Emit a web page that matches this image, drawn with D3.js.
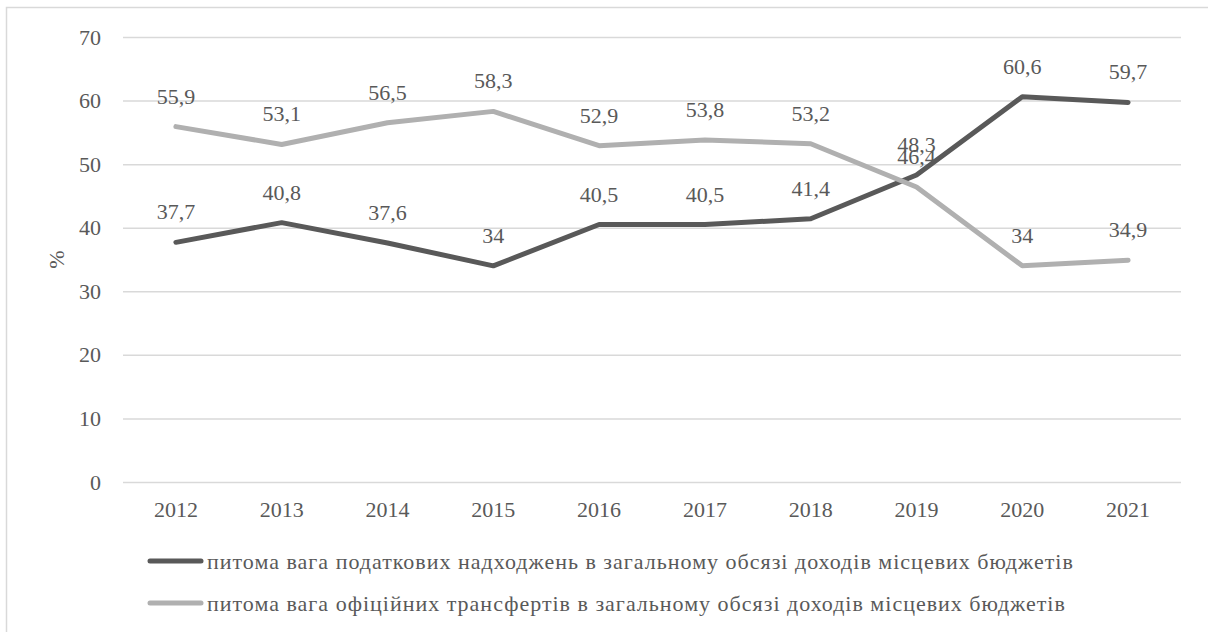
<!DOCTYPE html>
<html>
<head>
<meta charset="utf-8">
<script src="https://cdn.jsdelivr.net/npm/d3@7"></script>
<style>
  html, body { margin: 0; padding: 0; background: #fff; }
  svg { display: block; }
  text { font-family: "Liberation Serif", Tinos, "Times New Roman", Times, "DejaVu Serif", "Noto Serif", serif; fill: #595959; }
</style>
</head>
<body>
<svg id="chart" width="1208" height="632"></svg>
<script>
// Share of local budget revenues, %
const years = ["2012","2013","2014","2015","2016","2017","2018","2019","2020","2021"];
const taxShare = [37.7, 40.8, 37.6, 34, 40.5, 40.5, 41.4, 48.3, 60.6, 59.7];
const transferShare = [55.9, 53.1, 56.5, 58.3, 52.9, 53.8, 53.2, 46.4, 34, 34.9];
const yTicks = [0, 10, 20, 30, 40, 50, 60, 70];
const seriesNames = [
  "питома вага податкових надходжень в загальному обсязі доходів місцевих бюджетів",
  "питома вага офіційних трансфертів в загальному обсязі доходів місцевих бюджетів"
];
const seriesColors = ["#595959", "#b0b0b0"];

const W = 1208, H = 632;
const margin = { left: 123, right: 27, top: 37, bottom: 150 };
const svg = d3.select("#chart");

// outer frame
svg.append("rect")
  .attr("x", 6.5).attr("y", 7.5)
  .attr("width", W + 10).attr("height", H + 10)
  .attr("fill", "none").attr("stroke", "#d9d9d9").attr("stroke-width", 1.5);

const x = d3.scaleBand().domain(years)
  .range([margin.left, W - margin.right]).paddingInner(0).paddingOuter(0);
const y = d3.scaleLinear().domain([0, 70]).range([H - margin.bottom, margin.top]);
const cx = d => x(d) + x.bandwidth() / 2;

// horizontal gridlines with value labels
const yAxis = d3.axisLeft(y).tickValues(yTicks).tickSize(-(W - margin.left - margin.right))
  .tickFormat(d3.format("d")).tickPadding(22);
const gy = svg.append("g").attr("transform", `translate(${margin.left},0)`).call(yAxis);
gy.attr("font-family", null);
gy.select(".domain").remove();
gy.selectAll(".tick line").attr("stroke", "#d9d9d9").attr("stroke-width", 1.5);
gy.selectAll(".tick text").attr("font-size", 22).attr("fill", "#595959");

// category labels
const xAxis = d3.axisBottom(x).tickSize(0).tickPadding(19);
const gx = svg.append("g").attr("transform", `translate(0,${y(0)})`).call(xAxis);
gx.attr("font-family", null);
gx.select(".domain").remove();
gx.selectAll(".tick text").attr("font-size", 22).attr("fill", "#595959");

// axis title
svg.append("text")
  .attr("transform", `translate(64,${(y(0) + y(70)) / 2}) rotate(-90)`)
  .attr("text-anchor", "middle").attr("font-size", 22).text("%");

const line = d3.line().x((d, i) => cx(years[i])).y(d => y(d));
const series = [taxShare, transferShare];

series.forEach((vals, s) => {
  svg.append("path").datum(vals)
    .attr("d", line).attr("fill", "none")
    .attr("stroke", seriesColors[s]).attr("stroke-width", 5)
    .attr("stroke-linejoin", "round").attr("stroke-linecap", "round");
});

const fmt = v => String(v).replace(".", ",");
series.forEach(vals => {
  svg.append("g").selectAll("text").data(vals).join("text")
    .attr("x", (d, i) => cx(years[i]))
    .attr("y", d => y(d) - 23)
    .attr("text-anchor", "middle").attr("font-size", 22)
    .text(fmt);
});

// legend
const legendY = [561, 603];
seriesNames.forEach((name, s) => {
  const g = svg.append("g");
  g.append("line")
    .attr("x1", 150).attr("x2", 201)
    .attr("y1", legendY[s]).attr("y2", legendY[s])
    .attr("stroke", seriesColors[s]).attr("stroke-width", 5).attr("stroke-linecap", "round");
  g.append("text")
    .attr("x", 207).attr("y", legendY[s] + 8)
    .attr("font-size", 22).attr("letter-spacing", 1)
    .text(name);
});
</script>
</body>
</html>
